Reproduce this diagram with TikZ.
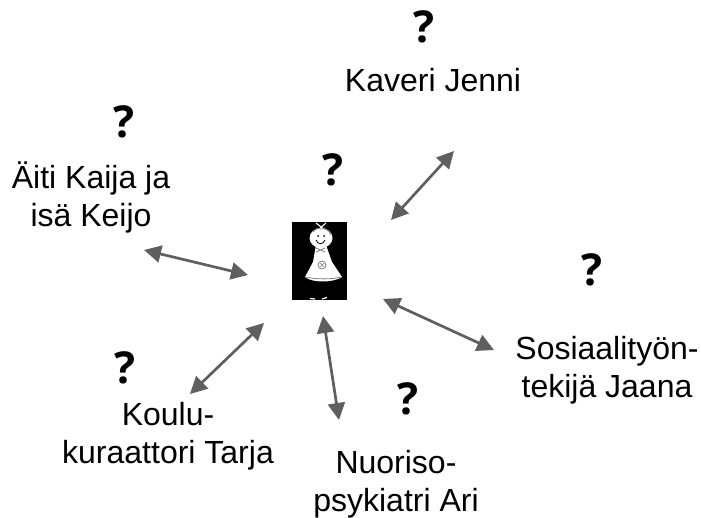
\documentclass[tikz,border=0pt]{standalone}
\usepackage{fontspec}
\setmainfont{Liberation Sans}
\newfontfamily\qfont{Open Sans}
\usetikzlibrary{arrows.meta}
\definecolor{arrowgrey}{HTML}{5F5F5F}
\tikzset{
  lab/.style={font=\fontsize{32}{38}\selectfont, align=center, inner sep=0pt, text=black},
  qm/.style={font=\qfont\bfseries\fontsize{44}{44}\selectfont, inner sep=0pt, text=black},
  link/.style={draw=arrowgrey, line width=2.7pt, {Triangle[length=17pt,width=17pt]}-{Triangle[length=17pt,width=17pt]}}
}
\begin{document}
\begin{tikzpicture}[x=1pt,y=-1pt]
\useasboundingbox (0,0) rectangle (701,518);
\node[lab] (jenni) at (433,80) {Kaveri Jenni};
\node[lab] (vanhemmat) at (91,197) {Äiti Kaija ja\\isä Keijo};
\node[lab] (jaana) at (607,370) {Sosiaalityön-\\tekijä Jaana};
\node[lab] (ari) at (396,484) {Nuoriso-\\psykiatri Ari};
\node[lab] (tarja) at (168,436) {Koulu-\\kuraattori Tarja};
\node[qm] (q1) at (424,27) {?};
\node[qm] (q2) at (124,122) {?};
\node[qm] (q3) at (333,170) {?};
\node[qm] (q4) at (592,270) {?};
\node[qm] (q5) at (125,368) {?};
\node[qm] (q6) at (408,399) {?};
% figure
\fill[black] (292,222) rectangle (347,300);
\fill[white] (316,245) -- (326,245) -- (332,262) -- (342,277) .. controls (333,283) and (312,283) .. (305,277) -- (313,262) -- cycle;
\fill[white] (321,238) ellipse (11.5 and 10);
\draw[white,line width=1.1pt] (316,223) -- (325,230) (326,223) -- (318,230);
\draw[gray,line width=.8pt] (313,232) .. controls (316,228) and (319,228) .. (321,229) .. controls (325,228) and (329,230) .. (331,235);
\fill[black] (318,236) circle (1) (324,236) circle (1);
\draw[black,line width=.8pt] (316,240) .. controls (318,245) and (323,245) .. (325,240);
\draw[gray,line width=.8pt] (316,248) -- (325,252) (325,248) -- (316,252);
\draw[gray,line width=.8pt] (322,265) circle (4);
\draw[gray,line width=.6pt] (320,263) -- (324,267) (324,263) -- (320,267);
\draw[gray,line width=.8pt] (306,277) .. controls (315,279.5) and (332,279.5) .. (341,277);
\draw[white,line width=1.2pt] (310,298.5) -- (315,299) (322,299) -- (327,297.5);
% connectors
\coordinate (a1s) at (391,220); \coordinate (a1e) at (454,151);
\coordinate (a2s) at (248,275); \coordinate (a2e) at (144,250);
\coordinate (a3s) at (383,299); \coordinate (a3e) at (494,350);
\coordinate (a4s) at (323,316); \coordinate (a4e) at (339,420);
\coordinate (a5s) at (264,323); \coordinate (a5e) at (190,394);
\draw[link] (a1s) -- (a1e);
\draw[link] (a2s) -- (a2e);
\draw[link] (a3s) -- (a3e);
\draw[link] (a4s) -- (a4e);
\draw[link] (a5s) -- (a5e);
\end{tikzpicture}
\end{document}
